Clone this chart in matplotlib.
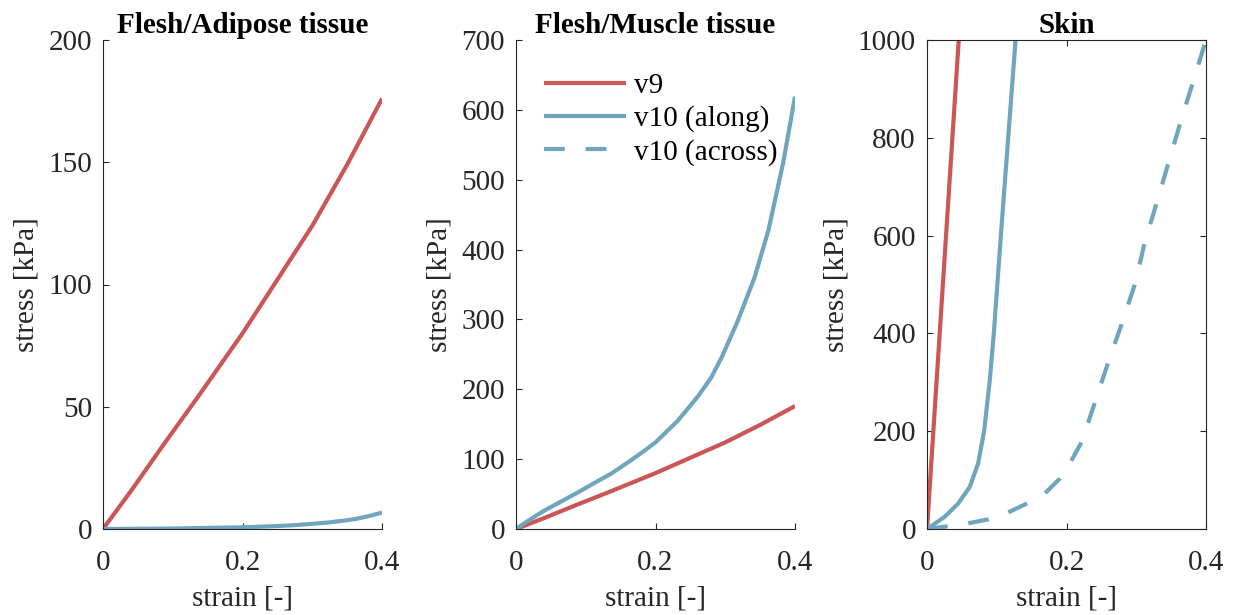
import numpy as np
import matplotlib
matplotlib.use("Agg")
import matplotlib.pyplot as plt

plt.rcParams['font.family'] = ['Liberation Serif', 'DejaVu Serif']
plt.rcParams['font.size'] = 21

# ---- data ----
# v9 (same curve in adipose and muscle panels)
v9_strain = [0.0, 0.04, 0.088, 0.136, 0.2, 0.25, 0.3, 0.35, 0.4]
v9_stress = [0.0, 15.5, 35.0, 54.0, 80.0, 102.0, 124.0, 149.0, 176.0]

# Adipose v10
adi_strain = [0.0, 0.1, 0.2, 0.25, 0.276, 0.3, 0.324, 0.345, 0.362, 0.38, 0.4]
adi_stress = [0.0, 0.2, 0.7, 1.2, 1.6, 2.1, 2.7, 3.4, 4.1, 5.2, 6.7]

# Muscle v10 (along)
mus_strain = [0.0, 0.02, 0.04, 0.065, 0.088, 0.11, 0.136, 0.16, 0.184, 0.2,
              0.232, 0.261, 0.28, 0.295, 0.318, 0.342, 0.362, 0.383, 0.4]
mus_stress = [0.0, 13.5, 26.0, 39.5, 52.0, 64.5, 79.0, 95.0, 112.0, 124.0,
              155.0, 190.0, 217.0, 246.0, 298.0, 360.0, 428.0, 524.0, 619.0]

# Skin
skin_v9_strain = [0.0, 0.0455]
skin_v9_stress = [0.0, 1000.0]
skin_along_strain = [0.0, 0.0254, 0.0446, 0.0613, 0.0733, 0.0819, 0.090, 0.0958,
                     0.1059, 0.1164, 0.127]
skin_along_stress = [0.0, 25.0, 52.0, 86.0, 134.0, 200.0, 304.0, 400.0,
                     600.0, 800.0, 1000.0]
skin_across_strain = [0.0, 0.0254, 0.0589, 0.0877, 0.1164, 0.1437, 0.1691, 0.1907,
                      0.2074, 0.2218, 0.241, 0.2601, 0.2793, 0.2984, 0.3128,
                      0.3296, 0.3464, 0.3641, 0.3813, 0.4]
skin_across_stress = [0.0, 4.8, 11.6, 19.7, 34.0, 52.4, 73.0, 103.5,
                      141.0, 178.0, 260.0, 342.0, 420.0, 502.0, 590.0,
                      668.0, 750.0, 835.0, 914.0, 1000.0]

titles = ['Flesh/Adipose tissue', 'Flesh/Muscle tissue', 'Skin']
ylims = [200, 700, 1000]
yticks = [[0, 50, 100, 150, 200],
          [0, 100, 200, 300, 400, 500, 600, 700],
          [0, 200, 400, 600, 800, 1000]]
xticks = [0, 0.2, 0.4]
xticklabels = ['0', '0.2', '0.4']
legend_labels = ['v9', 'v10 (along)', 'v10 (across)']

red = '#CC5656'
blue = '#6FA6BE'
lw = 3.0
dash = (5.0, 5.0)
axcol = '#262626'

fig = plt.figure(figsize=(12.34, 6.15), dpi=100)
W, H = 1234, 615
lefts = [103, 516, 927]
width = 279
top, bottom = 40, 529

axes = []
for i in range(3):
    ax = fig.add_axes([lefts[i] / W, 1 - bottom / H, width / W, (bottom - top) / H])
    axes.append(ax)

ax1, ax2, ax3 = axes
ax1.plot(v9_strain, v9_stress, color=red, lw=lw, solid_capstyle='butt', solid_joinstyle='round')
ax1.plot(adi_strain, adi_stress, color=blue, lw=lw, solid_capstyle='butt', solid_joinstyle='round')

h1, = ax2.plot(v9_strain, v9_stress, color=red, lw=lw, solid_capstyle='butt', solid_joinstyle='round')
h2, = ax2.plot(mus_strain, mus_stress, color=blue, lw=lw, solid_capstyle='butt', solid_joinstyle='round')
h3, = ax2.plot([], [], color=blue, lw=lw, dashes=dash)
ax2.legend([h1, h2, h3], legend_labels, loc='upper left', frameon=False,
           handlelength=2.8, handletextpad=0.28, labelspacing=0.22,
           borderaxespad=0.0, bbox_to_anchor=(0.058, 0.957), fontsize=21)

ax3.plot(skin_v9_strain, skin_v9_stress, color=red, lw=lw, solid_capstyle='butt')
ax3.plot(skin_along_strain, skin_along_stress, color=blue, lw=lw, solid_capstyle='butt', solid_joinstyle='round')
ax3.plot(skin_across_strain, skin_across_stress, color=blue, lw=lw, dashes=dash)

for i, ax in enumerate(axes):
    ax.set_xlim(0, 0.4)
    ax.set_ylim(0, ylims[i])
    ax.set_xticks(xticks)
    ax.set_xticklabels(xticklabels)
    ax.set_yticks(yticks[i])
    ax.set_title(titles[i], fontweight='bold', fontsize=21, pad=5)
    ax.set_xlabel('strain [-]', color=axcol, labelpad=7)
    ax.set_ylabel('stress [kPa]', color=axcol, labelpad=6)
    for s in ax.spines.values():
        s.set_color(axcol)
        s.set_linewidth(0.8)
    ax.tick_params(direction='in', length=4, width=0.8, colors=axcol)
    ax.tick_params(axis='x', pad=15)
    ax.tick_params(axis='y', pad=8)
    if i < 2:
        ax.spines['top'].set_visible(False)
        ax.spines['right'].set_visible(False)
    else:
        ax.tick_params(top=True, right=True)

fig.savefig('out.png', dpi=100)
